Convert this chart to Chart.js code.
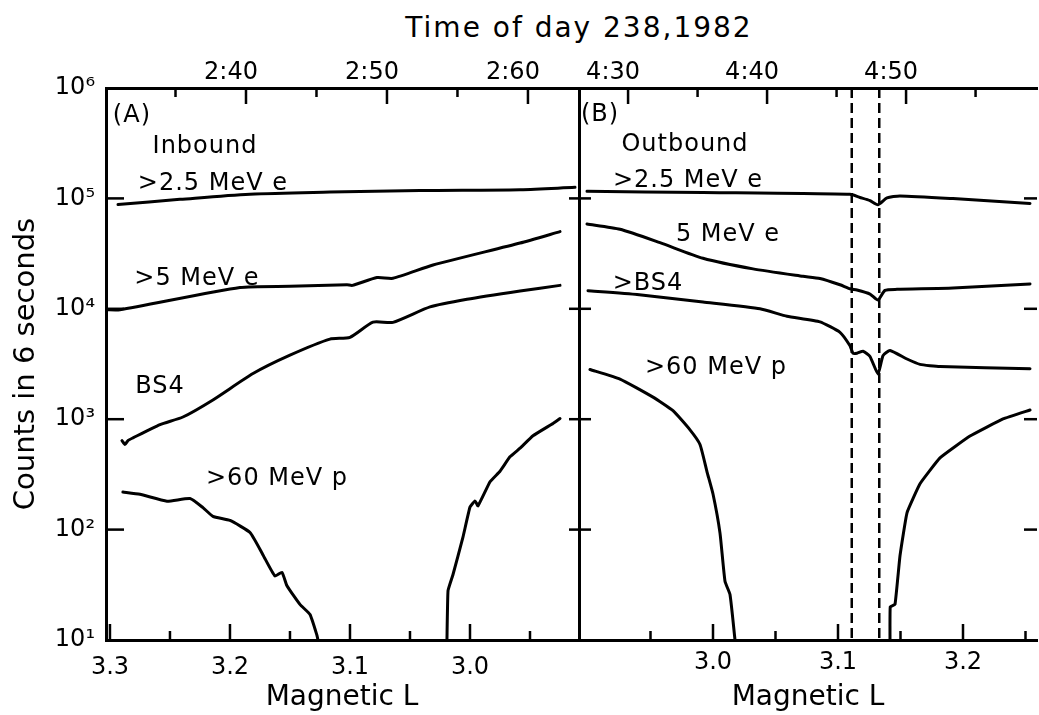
<!DOCTYPE html>
<html>
<head>
<meta charset="utf-8">
<script src="https://cdn.jsdelivr.net/npm/chart.js@4.4.0/dist/chart.umd.min.js"></script>
<style>
  html, body { margin: 0; padding: 0; background: #fff; }
  #wrap { position: relative; width: 1039px; height: 715px; overflow: hidden; background: #fff; }
  #cA { position: absolute; left: 0; top: 0; }
  #cB { position: absolute; left: 560px; top: 0; }
  #title { position: absolute; left: 329px; width: 500px; top: 14px; text-align: center;
           font: 28px/28px "DejaVu Sans"; letter-spacing: 2px; color: #000; }
</style>
</head>
<body>
<div id="wrap">
  <div id="title">Time of day 238,1982</div>
  <canvas id="cA" width="600" height="715"></canvas>
  <canvas id="cB" width="479" height="715"></canvas>
</div>
<script>
// ---- data: magnetic L vs counts in 6 s ----
// (A) inbound
const aE25L = [3.2933, 3.2417, 3.1833, 3.1167, 3.0417, 2.9583, 2.9125];
const aE25  = [88000, 98000, 109000, 114000, 118000, 120000, 126000];
const aE5L  = [3.3033, 3.2917, 3.1917, 3.15, 3.1025, 3.098, 3.0775, 3.0642, 3.0308, 2.9583, 2.925];
const aE5   = [9800, 9800, 15600, 16000, 16500, 16300, 19200, 18900, 24900, 39400, 50000];
const aBSL  = [3.29, 3.2875, 3.285, 3.2808, 3.2583, 3.2392, 3.2142, 3.1808, 3.15, 3.1167, 3.1, 3.0808, 3.0642, 3.0333, 3.0025, 2.9583, 2.925];
const aBS   = [640, 590, 640, 678, 893, 1047, 1495, 2590, 3800, 5310, 5520, 7570, 7540, 10400, 12200, 14500, 16300];
const aP1L  = [3.2892, 3.275, 3.2525, 3.2333, 3.2225, 3.2142, 3.2, 3.1833, 3.1725, 3.1625, 3.1567, 3.1525, 3.1417, 3.1333, 3.1275, 3.1267];
const aP1   = [219, 209, 181, 191, 158, 132, 121, 94, 59, 38, 41, 31, 21, 17, 11, 10];
const aP2L  = [3.0192, 3.0183, 3.0142, 3.0058, 3.0, 2.9958, 2.9933, 2.9833, 2.975, 2.9667, 2.9583, 2.9475, 2.9308, 2.925];
const aP2   = [10, 28, 39, 86, 160, 182, 164, 271, 338, 456, 546, 708, 915, 1014];

// (B) outbound
const bE25L = [2.8992, 2.992, 3.1096, 3.1176, 3.1256, 3.132, 3.1392, 3.1496, 3.192, 3.2536];
const bE25  = [116000, 113000, 108800, 102000, 95500, 87700, 101000, 105200, 99600, 89900];
const bE5L  = [2.8992, 2.9256, 2.9576, 2.992, 3.032, 3.072, 3.0856, 3.1016, 3.1096, 3.1152, 3.1256, 3.132, 3.1376, 3.1472, 3.192, 3.2536];
const bE5   = [58600, 52500, 39700, 28700, 23000, 19700, 18800, 16500, 15200, 14800, 13600, 12000, 14700, 15000, 15400, 16800];
const bBSL  = [2.9, 2.9392, 2.992, 3.0376, 3.0592, 3.0856, 3.1016, 3.1096, 3.112, 3.1152, 3.12, 3.1256, 3.132, 3.136, 3.1416, 3.1552, 3.1656, 3.1816, 3.2536];
const bBS   = [14600, 13500, 11500, 10000, 8570, 7620, 6120, 4620, 3960, 3960, 4130, 3700, 2560, 3770, 4200, 3510, 3140, 3000, 2860];
const bP1L  = [2.9016, 2.9256, 2.952, 2.968, 2.9816, 2.9896, 2.9952, 3.0, 3.0056, 3.0096, 3.0136, 3.0176];
const bP1   = [2820, 2310, 1585, 1194, 801, 590, 334, 210, 93, 34, 25.8, 10];
const bP2L  = [3.1416, 3.1418, 3.1456, 3.1496, 3.1552, 3.1656, 3.1816, 3.2056, 3.232, 3.2536];
const bP2   = [10, 20, 21, 58, 142, 260, 446, 703, 1005, 1211];
const dashL = [3.111, 3.133];

// axis ticks and labels
const yVals   = [1e1, 1e2, 1e3, 1e4, 1e5, 1e6];
const yLabels = ['10¹', '10²', '10³', '10⁴', '10⁵', '10⁶'];
const yInner  = [1e2, 1e3, 1e4, 1e5];
const lValsA  = [3.3, 3.2, 3.1, 3.0];
const lLabA   = ['3.3', '3.2', '3.1', '3.0'];
const lMinA   = [3.25, 3.15, 3.05, 2.95];
const lValsB  = [3.0, 3.1, 3.2];
const lLabB   = ['3.0', '3.1', '3.2'];
const lMinB   = [2.95, 3.05, 3.15, 3.25];
const tValsA  = [160, 170, 180];          // minutes after 0:00
const tLabA   = ['2:40', '2:50', '2:60'];
const tMinA   = [155, 165, 175];
const tValsB  = [270, 280, 290];
const tLabB   = ['4:30', '4:40', '4:50'];
const tMinB   = [275, 285, 295];

// curve labels
const labA  = ['(A)', 'Inbound', '>2.5 MeV e', '>5 MeV e', 'BS4', '>60 MeV p'];
const labAL = [3.2817, 3.2208, 3.2142, 3.2275, 3.2583, 3.1608];
const labAV = [566000, 291000, 137000, 18600, 1970, 287];
const labB  = ['(B)', 'Outbound', '>2.5 MeV e', '5 MeV e', '>BS4', '>60 MeV p'];
const labBL = [2.9096, 2.9776, 2.98, 3.012, 2.948, 3.0024];
const labBV = [570000, 305000, 144000, 47100, 16900, 2950];

Chart.defaults.font.family = '"DejaVu Sans", sans-serif';
Chart.defaults.color = '#000';

function ds(xs, ys, tension) {
    return {
        data: xs.map((x, i) => ({ x: x, y: ys[i] })),
        borderColor: '#000', borderWidth: 3, pointRadius: 0, fill: false, tension: tension || 0,
        borderJoinStyle: 'round', borderCapStyle: 'round', xAxisID: 'x', yAxisID: 'y'
    };
}

const frameGrid = { display: true, drawOnChartArea: false, drawTicks: false };
const frameBorder = { display: true, color: '#000', width: 3 };
const tickFont = { size: 24 };

// inward tick marks, dashed markers and curve labels
function makeDecor(cfg) {
    return {
        id: 'decor' + cfg.side,
        afterDraw(chart) {
            const { ctx, chartArea: a, scales } = chart;
            const sx = scales.x, st = scales.t, sy = scales.y;
            ctx.save();
            ctx.fillStyle = '#000';
            const vTick = (x, y, len) => ctx.fillRect(x - 1.25, Math.min(y, y + len), 2.5, Math.abs(len));
            const hTick = (x, y, len) => ctx.fillRect(Math.min(x, x + len), y - 1.25, Math.abs(len), 2.5);
            cfg.lMajor.forEach(v => vTick(sx.getPixelForValue(v), a.bottom, -16));
            cfg.lMinor.forEach(v => vTick(sx.getPixelForValue(v), a.bottom, -9));
            cfg.tMajor.forEach(v => vTick(st.getPixelForValue(v), a.top, 16));
            cfg.tMinor.forEach(v => vTick(st.getPixelForValue(v), a.top, 9));
            yInner.forEach(v => {
                const y = sy.getPixelForValue(v);
                if (cfg.side === 'A') hTick(a.left, y, 18);
                else { hTick(a.left - 10, y, 22); hTick(a.right, y, -13); }
            });
            ctx.strokeStyle = '#000';
            ctx.lineWidth = 2.5;
            if (cfg.dashes) {
                ctx.setLineDash([10, 5]);
                cfg.dashes.forEach(v => {
                    const x = sx.getPixelForValue(v);
                    ctx.beginPath(); ctx.moveTo(x, a.top); ctx.lineTo(x, a.bottom); ctx.stroke();
                });
                ctx.setLineDash([]);
            }
            ctx.font = '24px "DejaVu Sans"';
            ctx.letterSpacing = '1px';
            ctx.textAlign = 'center';
            ctx.textBaseline = 'middle';
            cfg.labels.forEach((t, i) => {
                ctx.fillText(t, sx.getPixelForValue(cfg.labelL[i]), sy.getPixelForValue(cfg.labelV[i]));
            });
            ctx.restore();
        }
    };
}

function xAxis(min, max, rev, vals, labs, pad) {
    return {
        type: 'linear', position: 'bottom', min: min, max: max, reverse: rev,
        grid: frameGrid, border: frameBorder,
        ticks: { font: tickFont, padding: pad, maxRotation: 0, autoSkip: false,
                 callback: v => labs[vals.indexOf(v)] },
        afterBuildTicks: s => { s.ticks = vals.map(v => ({ value: v })); },
        afterFit: s => { s.height = 75; },
        title: { display: true, text: 'Magnetic L', font: { size: 28, lineHeight: 1 }, padding: { top: 0, bottom: 3 } }
    };
}
function tAxis(min, max, vals, labs) {
    return {
        type: 'linear', position: 'top', min: min, max: max,
        grid: frameGrid, border: frameBorder,
        ticks: { font: tickFont, padding: 1, labelOffset: -15, maxRotation: 0, autoSkip: false,
                 callback: v => labs[vals.indexOf(v)] },
        afterBuildTicks: s => { s.ticks = vals.map(v => ({ value: v })); },
        afterFit: s => { s.height = 88; }
    };
}

new Chart(document.getElementById('cA'), {
    type: 'line',
    data: { datasets: [ds(aE25L, aE25, 0.3), ds(aE5L, aE5, 0.2), ds(aBSL, aBS, 0.2), ds(aP1L, aP1, 0.15), ds(aP2L, aP2, 0.1)] },
    options: {
        responsive: false, animation: false, events: [],
        layout: { padding: { left: 0, right: 22, top: 0, bottom: 0 } },
        plugins: { legend: { display: false }, tooltip: { enabled: false } },
        scales: {
            x: xAxis(2.91, 3.3033, true, lValsA, lLabA, 13),
            t: tAxis(150.07, 183.55, tValsA, tLabA),
            y: {
                type: 'logarithmic', position: 'left', min: 10, max: 1e6,
                grid: frameGrid, border: frameBorder,
                ticks: { font: tickFont, padding: 11, callback: v => yLabels[yVals.indexOf(v)] },
                afterBuildTicks: s => { s.ticks = yVals.map(v => ({ value: v })); },
                afterFit: s => { s.width = 106; },
                title: { display: true, text: 'Counts in 6 seconds', font: { size: 29, lineHeight: 1 }, padding: { top: 12, bottom: 0 } }
            }
        }
    },
    plugins: [makeDecor({ side: 'A', lMajor: lValsA, lMinor: lMinA, tMajor: tValsA, tMinor: tMinA,
                          labels: labA, labelL: labAL, labelV: labAV })]
});

new Chart(document.getElementById('cB'), {
    type: 'line',
    data: { datasets: [ds(bE25L, bE25, 0.2), ds(bE5L, bE5, 0.2), ds(bBSL, bBS, 0.15), ds(bP1L, bP1, 0.15), ds(bP2L, bP2, 0.1)] },
    options: {
        responsive: false, animation: false, events: [],
        layout: { padding: { left: 19, right: 2, top: 0, bottom: 0 } },
        plugins: { legend: { display: false }, tooltip: { enabled: false } },
        scales: {
            x: xAxis(2.8928, 3.2592, false, lValsB, lLabB, 8),
            t: tAxis(266.47, 299.42, tValsB, tLabB),
            y: {
                type: 'logarithmic', position: 'left', min: 10, max: 1e6,
                grid: frameGrid, border: frameBorder,
                ticks: { display: false },
                afterFit: s => { s.width = 0; }
            }
        }
    },
    plugins: [makeDecor({ side: 'B', lMajor: lValsB, lMinor: lMinB, tMajor: tValsB, tMinor: tMinB,
                          dashes: dashL, labels: labB, labelL: labBL, labelV: labBV })]
});
</script>
</body>
</html>
